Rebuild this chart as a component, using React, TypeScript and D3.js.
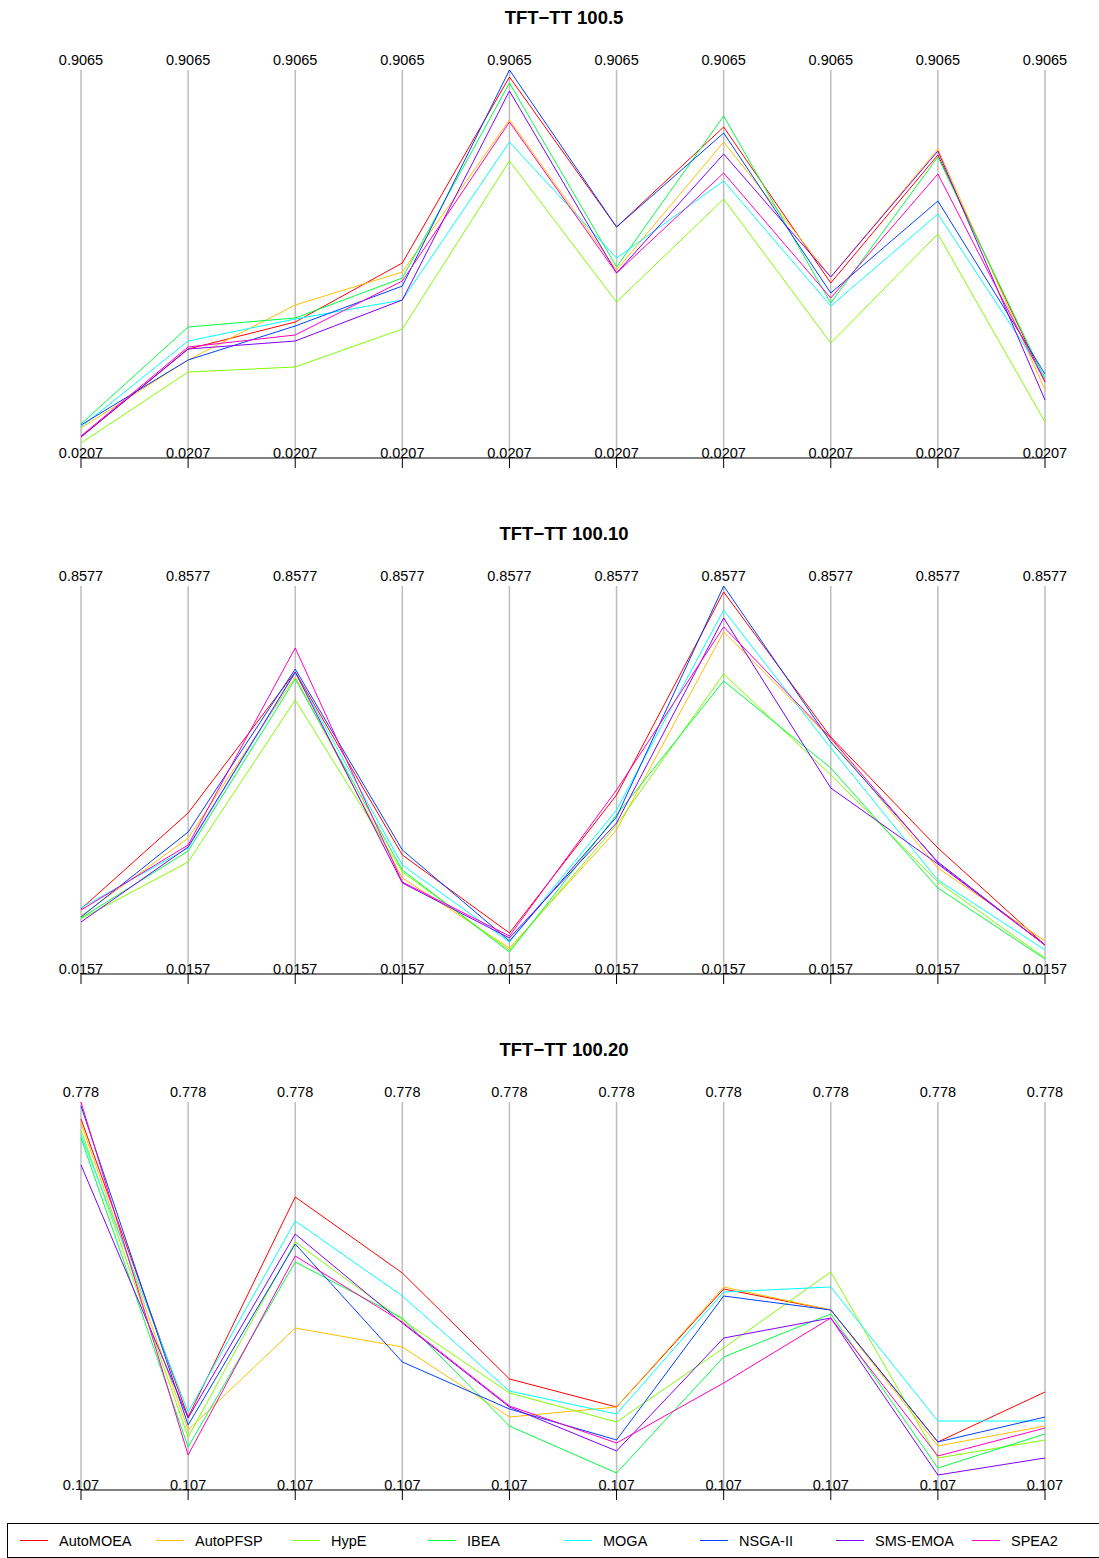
import React from "react";
import * as d3 from "d3";

const SERIES = ["AutoMOEA", "AutoPFSP", "HypE", "IBEA", "MOGA", "NSGA-II", "SMS-EMOA", "SPEA2"];
const COLORS = ["#FF0000", "#FFBF00", "#80FF00", "#00FF40", "#00FFFF", "#0040FF", "#8000FF", "#FF00BF"];
const AXES = [1, 2, 3, 4, 5, 6, 7, 8, 9, 10];

const TITLES = ["TFT\u2212TT 100.5", "TFT\u2212TT 100.10", "TFT\u2212TT 100.20"];
const TOP_LABELS = ["0.9065", "0.8577", "0.778"];
const BOTTOM_LABELS = ["0.0207", "0.0157", "0.107"];
const PANEL_MAX = [0.9065, 0.8577, 0.778];
const PANEL_MIN = [0.0207, 0.0157, 0.107];

// TFT-TT 100.5 (series order as SERIES)
const PANEL_5 = [
  [0.0350, 0.2439, 0.3080, 0.4482, 0.8899, 0.5337, 0.7711, 0.4007, 0.7046, 0.1656],
  [0.0563, 0.2178, 0.3484, 0.4268, 0.7878, 0.4315, 0.7355, 0.4149, 0.7189, 0.1466],
  [0.0207, 0.1893, 0.2012, 0.2914, 0.6904, 0.3555, 0.6002, 0.2582, 0.5170, 0.0706],
  [0.0658, 0.2962, 0.3176, 0.4125, 0.8756, 0.4387, 0.7973, 0.3532, 0.6999, 0.1727],
  [0.0587, 0.2629, 0.3152, 0.3603, 0.7355, 0.4600, 0.6429, 0.3460, 0.5645, 0.1774],
  [0.0634, 0.2178, 0.2986, 0.3935, 0.9065, 0.5337, 0.7569, 0.3769, 0.5954, 0.1846],
  [0.0350, 0.2439, 0.2629, 0.3603, 0.8566, 0.4244, 0.7070, 0.4149, 0.7141, 0.1228],
  [0.0373, 0.2487, 0.2772, 0.4054, 0.7830, 0.4244, 0.6619, 0.3650, 0.6595, 0.1656],
];

// TFT-TT 100.10
const PANEL_10 = [
  [0.1286, 0.3453, 0.6636, 0.2505, 0.0744, 0.3859, 0.8442, 0.5168, 0.2663, 0.0473],
  [0.1128, 0.2888, 0.6523, 0.1986, 0.0405, 0.3069, 0.7539, 0.5123, 0.2211, 0.0563],
  [0.1060, 0.2347, 0.6004, 0.2121, 0.0360, 0.3182, 0.6591, 0.4311, 0.1895, 0.0180],
  [0.1083, 0.2595, 0.6478, 0.2166, 0.0315, 0.3408, 0.6433, 0.4469, 0.1760, 0.0157],
  [0.1308, 0.2663, 0.6613, 0.2279, 0.0541, 0.3521, 0.8035, 0.4920, 0.1940, 0.0360],
  [0.1105, 0.3024, 0.6703, 0.2618, 0.0563, 0.3363, 0.8577, 0.5056, 0.2347, 0.0473],
  [0.0992, 0.2685, 0.6636, 0.1873, 0.0631, 0.3227, 0.7855, 0.4017, 0.2302, 0.0473],
  [0.1263, 0.2730, 0.7178, 0.1895, 0.0676, 0.3972, 0.7652, 0.5146, 0.2324, 0.0473],
];

// TFT-TT 100.20
const PANEL_20 = [
  [0.7474, 0.2113, 0.6071, 0.4704, 0.2797, 0.2293, 0.4416, 0.4038, 0.1664, 0.2563],
  [0.7402, 0.1880, 0.3714, 0.3373, 0.2113, 0.2293, 0.4452, 0.4038, 0.1592, 0.1951],
  [0.7276, 0.1754, 0.5261, 0.3858, 0.2545, 0.2023, 0.3355, 0.4722, 0.1376, 0.1700],
  [0.7132, 0.1574, 0.4902, 0.3894, 0.1951, 0.1106, 0.3193, 0.3966, 0.1196, 0.1808],
  [0.7186, 0.2203, 0.5639, 0.4290, 0.2581, 0.2167, 0.4362, 0.4452, 0.2041, 0.2041],
  [0.7708, 0.1969, 0.5225, 0.3103, 0.2257, 0.1700, 0.4290, 0.4038, 0.1664, 0.2113],
  [0.6647, 0.2095, 0.5405, 0.3804, 0.2293, 0.1502, 0.3534, 0.3894, 0.1070, 0.1376],
  [0.7780, 0.1430, 0.5010, 0.3822, 0.2311, 0.1646, 0.2725, 0.3894, 0.1412, 0.1915],
];

const PANELS = [PANEL_5, PANEL_10, PANEL_20];

const W = 1099;
const H = 1558;
const PANEL_STEP = 516;
const FONT = "'Liberation Sans', Arial, Helvetica, sans-serif";

function Panel({ idx }: { idx: number }) {
  const off = idx * PANEL_STEP;
  const dataTop = 70 + off;
  const dataBottom = 443 + off;
  const axisY = 458 + off;
  const x = d3.scalePoint<number>().domain(AXES).range([81, 1045]);
  const y = d3.scaleLinear().domain([PANEL_MIN[idx], PANEL_MAX[idx]]).range([dataBottom, dataTop]);
  const line = d3
    .line<number>()
    .x((_, i) => x(AXES[i]) as number)
    .y((v) => y(v));
  const values = PANELS[idx];
  return (
    <g>
      <text
        x={564}
        y={17 + off}
        textAnchor="middle"
        dominantBaseline="central"
        fontFamily={FONT}
        fontWeight="bold"
        fontSize={18.5}
        fill="#000"
      >
        {TITLES[idx]}
      </text>
      {AXES.map((a) => (
        <line
          key={"v" + a}
          x1={x(a)}
          x2={x(a)}
          y1={dataTop}
          y2={axisY}
          stroke="#BEBEBE"
          strokeWidth={1.5}
        />
      ))}
      {values.map((vals, s) => (
        <path key={SERIES[s]} d={line(vals) || ""} fill="none" stroke={COLORS[s]} strokeWidth={1} />
      ))}
      <line x1={x(1)} x2={x(10)} y1={axisY} y2={axisY} stroke="#000" strokeWidth={1} />
      {AXES.map((a) => (
        <line key={"t" + a} x1={x(a)} x2={x(a)} y1={axisY} y2={axisY + 10} stroke="#000" strokeWidth={1} />
      ))}
      {AXES.map((a) => (
        <text
          key={"top" + a}
          x={x(a)}
          y={dataTop - 10}
          textAnchor="middle"
          dominantBaseline="central"
          fontFamily={FONT}
          fontSize={14.5}
          fill="#000"
        >
          {TOP_LABELS[idx]}
        </text>
      ))}
      {AXES.map((a) => (
        <text
          key={"bot" + a}
          x={x(a)}
          y={dataBottom + 10}
          textAnchor="middle"
          dominantBaseline="central"
          fontFamily={FONT}
          fontSize={14.5}
          fill="#000"
        >
          {BOTTOM_LABELS[idx]}
        </text>
      ))}
    </g>
  );
}

function Legend() {
  const top = 1523;
  const itemX = d3.scaleLinear().domain([0, 1]).range([20, 156]);
  return (
    <g>
      <rect x={7.5} y={top + 0.5} width={1110} height={34} fill="#fff" stroke="#000" strokeWidth={1} />
      {SERIES.map((s, i) => {
        const x0 = itemX(i);
        return (
          <g key={s}>
            <line x1={x0} x2={x0 + 28} y1={top + 17.5} y2={top + 17.5} stroke={COLORS[i]} strokeWidth={1} />
            <text
              x={x0 + 39}
              y={top + 18}
              dominantBaseline="central"
              fontFamily={FONT}
              fontSize={14.5}
              fill="#000"
            >
              {s}
            </text>
          </g>
        );
      })}
    </g>
  );
}

export default function App() {
  return (
    <svg
      width={W}
      height={H}
      viewBox={`0 0 ${W} ${H}`}
      style={{ position: "absolute", left: 0, top: 0, background: "#fff" }}
    >
      <rect x={0} y={0} width={W} height={H} fill="#fff" />
      {[0, 1, 2].map((i) => (
        <Panel key={i} idx={i} />
      ))}
      <Legend />
    </svg>
  );
}
